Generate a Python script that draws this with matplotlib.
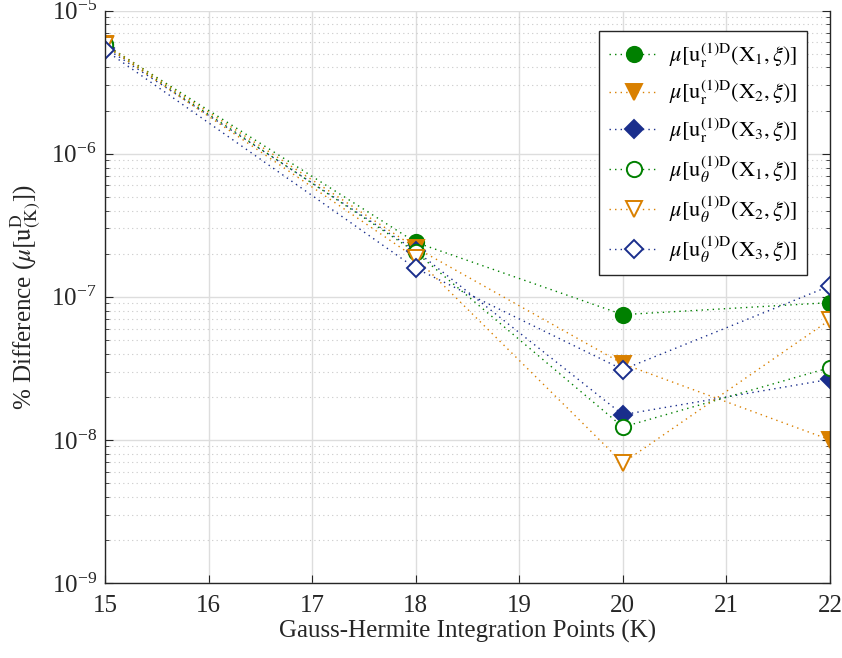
import numpy as np
import matplotlib.pyplot as plt
from matplotlib.ticker import LogLocator, NullFormatter

plt.rcParams['font.family'] = ['Liberation Serif', 'DejaVu Serif']
plt.rcParams['mathtext.fontset'] = 'stix'

# Gauss-Hermite integration points
K = [15, 18, 20, 22]

# % difference values
ur_x1 = [5.8e-6, 2.4e-7, 7.5e-8, 9.1e-8]
ur_x2 = [5.8e-6, 2.2e-7, 3.4e-8, 1.0e-8]
ur_x3 = [5.5e-6, 2.1e-7, 1.5e-8, 2.65e-8]
ut_x1 = [5.7e-6, 2.05e-7, 1.23e-8, 3.2e-8]
ut_x2 = [5.7e-6, 1.87e-7, 6.9e-9, 6.9e-8]
ut_x3 = [5.3e-6, 1.58e-7, 3.1e-8, 1.19e-7]

green = '#008000'
orange = '#D98000'
blue = '#1a2e8c'

series = [
    (ur_x1, green, 'o', True, r'$\mu[\mathrm{u}_\mathrm{r}^{(1)\mathrm{D}}(\mathrm{X}_1,\xi)]$'),
    (ur_x2, orange, 'v', True, r'$\mu[\mathrm{u}_\mathrm{r}^{(1)\mathrm{D}}(\mathrm{X}_2,\xi)]$'),
    (ur_x3, blue, 'D', True, r'$\mu[\mathrm{u}_\mathrm{r}^{(1)\mathrm{D}}(\mathrm{X}_3,\xi)]$'),
    (ut_x1, green, 'o', False, r'$\mu[\mathrm{u}_\theta^{(1)\mathrm{D}}(\mathrm{X}_1,\xi)]$'),
    (ut_x2, orange, 'v', False, r'$\mu[\mathrm{u}_\theta^{(1)\mathrm{D}}(\mathrm{X}_2,\xi)]$'),
    (ut_x3, blue, 'D', False, r'$\mu[\mathrm{u}_\theta^{(1)\mathrm{D}}(\mathrm{X}_3,\xi)]$'),
]
sizes = {'o': 11, 'v': 12, 'D': 9.5}

fig = plt.figure(figsize=(8.42, 6.58), dpi=100)
ax = fig.add_axes([0.1247, 0.114, 0.861, 0.87])

for vals, col, mk, filled, lab in series:
    ax.plot(K, vals, linestyle=(0, (1, 3)), color=col, marker=mk, markersize=sizes[mk],
            markerfacecolor=col if filled else 'white', markeredgecolor=col,
            markeredgewidth=1.4, linewidth=1.0, label=lab)

ax.set_yscale('log')
ax.set_xlim(15, 22)
ax.set_ylim(1e-9, 1e-5)
ax.set_xticks(range(15, 23))
ax.yaxis.set_major_locator(LogLocator(base=10, numticks=10))
ax.yaxis.set_minor_locator(LogLocator(base=10, subs=np.arange(2, 10), numticks=20))
ax.yaxis.set_minor_formatter(NullFormatter())

ax.grid(True, which='major', color='#dddddd', linewidth=1.0, linestyle='-')
ax.grid(True, which='minor', axis='y', color='#c8c8c8', linewidth=0.8, linestyle=(0, (1, 3)))
ax.set_axisbelow(True)

ax.spines['top'].set_visible(False)
for s in ['left', 'right', 'bottom']:
    ax.spines[s].set_color('#262626')
    ax.spines[s].set_linewidth(1.0)
ax.tick_params(which='both', direction='in', right=True, top=False, labelsize=18,
               colors='#262626')
ax.tick_params(axis='x', pad=9)
ax.tick_params(axis='y', pad=6)
ax.tick_params(which='major', length=6)
ax.tick_params(which='minor', length=3)

ax.set_xlabel('Gauss-Hermite Integration Points (K)', fontsize=18, color='#262626',
              labelpad=2)
ax.set_ylabel(r'% Difference ($\mu[\mathrm{u}_{(\mathrm{K})}^{\mathrm{D}}]$)', fontsize=18,
              color='#262626', labelpad=6)

leg = ax.legend(loc='upper right', bbox_to_anchor=(0.975, 0.972), fontsize=16,
                frameon=True, fancybox=False, edgecolor='#262626', framealpha=1,
                borderpad=0.45, labelspacing=0.42, handlelength=2.2, handletextpad=0.5,
                borderaxespad=0.2)
leg.get_frame().set_linewidth(1.0)

fig.savefig('out.png', dpi=100)
